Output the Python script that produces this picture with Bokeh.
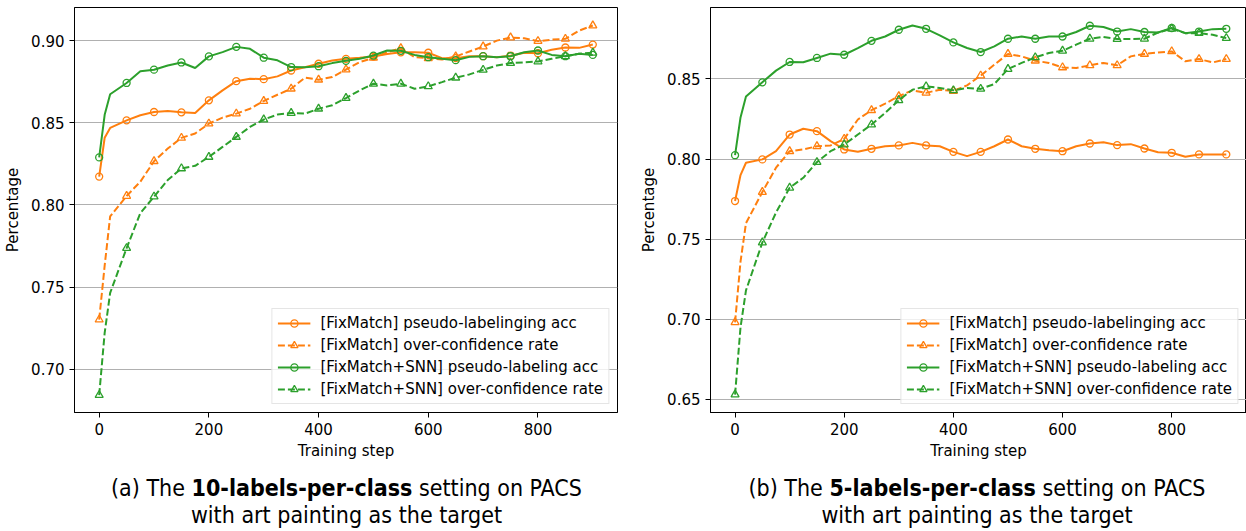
from bokeh.plotting import figure
from bokeh.models import Range1d, FixedTicker, NumeralTickFormatter, Div
from bokeh.layouts import row, column
from bokeh.embed import file_html
from bokeh.resources import INLINE

# ---------------- data ----------------
steps = [0, 10, 20, 50, 75, 100, 125, 150, 175, 200, 225, 250, 275, 300, 325, 350,
         375, 400, 425, 450, 475, 500, 525, 550, 575, 600, 625, 650, 675, 700, 725,
         750, 775, 800, 825, 850, 875, 900]

# (a) 10-labels-per-class
a_fm_acc = [0.8173, 0.841, 0.847, 0.8516, 0.8547, 0.8567, 0.8573, 0.8565, 0.8561, 0.8638,
            0.8699, 0.8755, 0.877, 0.8767, 0.8784, 0.882, 0.884, 0.8861, 0.8881, 0.8891,
            0.8897, 0.8905, 0.8921, 0.8931, 0.8931, 0.8928, 0.8895, 0.8895, 0.8907, 0.8907,
            0.8901, 0.891, 0.8928, 0.8925, 0.8946, 0.896, 0.8958, 0.8978]
a_fm_oc = [0.7301, 0.763, 0.793, 0.8055, 0.8142, 0.8267, 0.8344, 0.8409, 0.8436, 0.8496,
           0.8533, 0.8557, 0.8587, 0.8634, 0.8672, 0.8709, 0.8776, 0.8764, 0.878, 0.8826,
           0.8871, 0.8897, 0.8931, 0.8956, 0.8901, 0.8895, 0.8887, 0.8905, 0.8936, 0.8966,
           0.9002, 0.9021, 0.9016, 0.8999, 0.9008, 0.9013, 0.9063, 0.9094]
a_snn_acc = [0.829, 0.855, 0.8675, 0.8744, 0.8815, 0.8825, 0.885, 0.8869, 0.8835, 0.8906,
             0.8932, 0.8964, 0.8952, 0.8898, 0.8882, 0.8841, 0.884, 0.8846, 0.8865, 0.8879,
             0.8891, 0.8911, 0.8942, 0.894, 0.8915, 0.8901, 0.8891, 0.8883, 0.8903, 0.8907,
             0.8901, 0.8907, 0.8931, 0.8942, 0.8915, 0.8907, 0.8922, 0.8915]
a_snn_oc = [0.6841, 0.722, 0.7464, 0.7737, 0.795, 0.8051, 0.8152, 0.8223, 0.8239, 0.8293,
            0.8354, 0.8415, 0.8476, 0.8521, 0.8551, 0.8561, 0.8557, 0.8587, 0.8608, 0.8652,
            0.8699, 0.8739, 0.8729, 0.8739, 0.8709, 0.8723, 0.8749, 0.8776, 0.8796, 0.8824,
            0.885, 0.8865, 0.887, 0.8875, 0.8891, 0.8907, 0.8922, 0.8928]

# (b) 5-labels-per-class
b_fm_acc = [0.7738, 0.790, 0.7977, 0.7998, 0.805, 0.8153, 0.8189, 0.8174, 0.8112, 0.806,
            0.8045, 0.8064, 0.808, 0.8085, 0.8101, 0.8085, 0.808, 0.8045, 0.8018, 0.8045,
            0.808, 0.8122, 0.808, 0.8064, 0.8055, 0.8049, 0.808, 0.8097, 0.8105, 0.8087,
            0.8093, 0.8066, 0.8043, 0.8039, 0.8014, 0.8029, 0.8029, 0.8029]
b_fm_oc = [0.6981, 0.736, 0.760, 0.7794, 0.7946, 0.8049, 0.806, 0.808, 0.8085, 0.8126,
           0.8247, 0.8305, 0.8346, 0.8392, 0.8429, 0.8413, 0.8433, 0.8425, 0.846, 0.8521,
           0.8589, 0.8656, 0.8641, 0.8614, 0.86, 0.8572, 0.8568, 0.8585, 0.86, 0.8585,
           0.8641, 0.8656, 0.8665, 0.8672, 0.861, 0.8624, 0.8603, 0.8624]
b_snn_acc = [0.8024, 0.826, 0.839, 0.8479, 0.8552, 0.8606, 0.8604, 0.8631, 0.8658, 0.8651,
             0.8693, 0.8738, 0.8765, 0.8807, 0.8834, 0.8813, 0.8772, 0.8728, 0.8693, 0.8668,
             0.8703, 0.8751, 0.8765, 0.8751, 0.8765, 0.8765, 0.8793, 0.8832, 0.8824, 0.8796,
             0.8811, 0.8793, 0.879, 0.8818, 0.8786, 0.8796, 0.8811, 0.8813]
b_snn_oc = [0.653, 0.695, 0.718, 0.7479, 0.7666, 0.7821, 0.7883, 0.7981, 0.8049, 0.8091,
            0.8153, 0.8215, 0.8288, 0.8367, 0.8433, 0.8454, 0.8444, 0.8429, 0.8444, 0.8438,
            0.8468, 0.8562, 0.86, 0.8635, 0.8662, 0.8676, 0.8714, 0.8751, 0.8762, 0.8749,
            0.8749, 0.8751, 0.879, 0.8813, 0.8786, 0.8786, 0.8776, 0.8755]

labels = ["[FixMatch] pseudo-labelinging acc",
          "[FixMatch] over-confidence rate",
          "[FixMatch+SNN] pseudo-labeling acc",
          "[FixMatch+SNN] over-confidence rate"]
x_ticks = [0, 200, 400, 600, 800]
a_y_ticks = [0.70, 0.75, 0.80, 0.85, 0.90]
b_y_ticks = [0.65, 0.70, 0.75, 0.80, 0.85]

ORANGE = "#ff7f0e"
GREEN = "#2ca02c"
FONT = "DejaVu Sans"
FS = "15px"

mark_idx = [i for i, s in enumerate(steps) if s % 50 == 0]


def make_panel(series, y_range, y_ticks, x_end, width, border_left, border_right):
    p = figure(width=width, height=462, output_backend="svg", toolbar_location=None,
               x_range=Range1d(-45, x_end), y_range=Range1d(*y_range),
               min_border_left=border_left, min_border_right=border_right,
               min_border_top=7, min_border_bottom=49)
    p.outline_line_color = "black"
    p.outline_line_width = 1
    p.xgrid.visible = False
    p.ygrid.grid_line_color = "#b0b0b0"
    p.ygrid.grid_line_width = 1
    p.xaxis.ticker = FixedTicker(ticks=x_ticks)
    p.yaxis.ticker = FixedTicker(ticks=y_ticks)
    p.yaxis.formatter = NumeralTickFormatter(format="0.00")
    p.xaxis.axis_label = "Training step"
    p.yaxis.axis_label = "Percentage"
    for ax in (p.xaxis, p.yaxis):
        ax.axis_line_color = "black"
        ax.major_tick_line_color = "black"
        ax.major_tick_in = 0
        ax.major_tick_out = 5
        ax.minor_tick_line_color = None
        ax.major_label_text_font = FONT
        ax.major_label_text_font_size = FS
        ax.major_label_text_color = "black"
        ax.major_label_standoff = 5
        ax.axis_label_text_font = FONT
        ax.axis_label_text_font_size = FS
        ax.axis_label_text_font_style = "normal"
        ax.axis_label_text_color = "black"
    p.xaxis.axis_label_standoff = 4
    p.yaxis.axis_label_standoff = 6

    styles = [(ORANGE, "solid", "circle", 7), (ORANGE, "7 3", "triangle", 8),
              (GREEN, "solid", "circle", 7), (GREEN, "7 3", "triangle", 8)]
    for vals, lab, (col, dash, mk, sz) in zip(series, labels, styles):
        p.line(steps, vals, line_color=col, line_width=2, line_dash=dash, legend_label=lab)
        p.scatter([steps[i] for i in mark_idx], [vals[i] for i in mark_idx], marker=mk,
                  size=sz, line_color=col, line_width=1.3, fill_color=None, legend_label=lab)

    lg = p.legend[0]
    lg.location = "bottom_right"
    lg.margin = 8
    lg.padding = 5
    lg.spacing = 4
    lg.glyph_width = 33
    lg.glyph_height = 18
    lg.label_height = 18
    lg.label_standoff = 10
    lg.label_text_font = FONT
    lg.label_text_font_size = FS
    lg.label_text_color = "black"
    lg.border_line_color = "#cccccc"
    lg.border_line_width = 1
    lg.background_fill_alpha = 0.8
    return p


# left panel: frame x 74..617 ; right panel: frame x 704..1246 (same px per step)
p1 = make_panel([a_fm_acc, a_fm_oc, a_snn_acc, a_snn_oc], (0.6735, 0.9204), a_y_ticks,
                945, 637, 74, 20)
p2 = make_panel([b_fm_acc, b_fm_oc, b_snn_acc, b_snn_oc], (0.6418, 0.8946), b_y_ticks,
                937, 609, 67, 0)

CAP_FONT = "'Liberation Sans Narrow','DejaVu Sans Condensed','Open Sans',sans-serif"


def caption(first, bold, rest, line2, ml, w, width):
    html = (f'<div style="margin-left:{ml}px;width:{w}px;text-align:center;'
            f'font-family:{CAP_FONT};font-size:23px;line-height:27px;padding-top:8px;'
            f'color:#000;white-space:nowrap">{first}<b>{bold}</b>{rest}<br>{line2}</div>')
    return Div(text=html, width=width, height=68)


d1 = caption("(a) The ", "10-labels-per-class", " setting on PACS",
             "with art painting as the target", 70, 543, 637)
d2 = caption("(b) The ", "5-labels-per-class", " setting on PACS",
             "with art painting as the target", 60, 530, 609)

layout = column(row(p1, p2), row(d1, d2))
open("out.html", "w").write(file_html(layout, INLINE))
